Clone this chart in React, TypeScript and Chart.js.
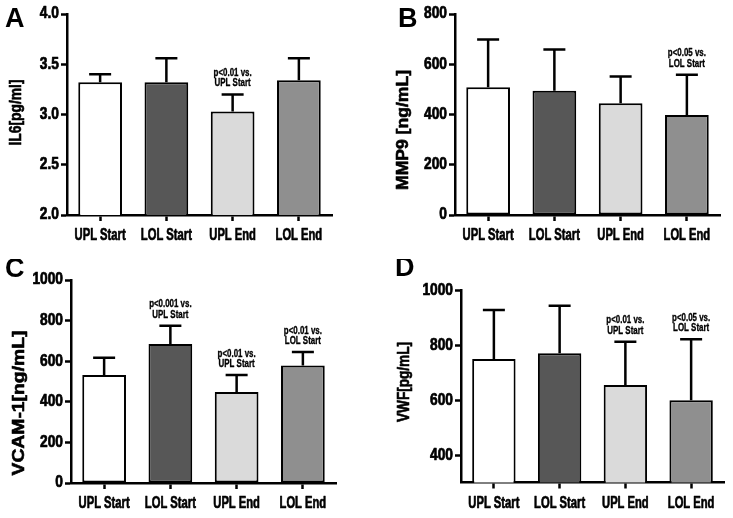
import React, { useEffect, useRef } from 'react';
import { Chart, registerables } from 'chart.js';

Chart.register(...registerables);

// ---------- data ----------
const categories = ['UPL Start', 'LOL Start', 'UPL End', 'LOL End'];
const barColors = ['#ffffff', '#575757', '#dadada', '#8f8f8f'];

const il6Mean = [3.32, 3.32, 3.03, 3.34];
const il6Sd = [0.08, 0.24, 0.17, 0.22];
const il6Notes = ['', '', 'p<0.01 vs.|UPL Start', ''];
const il6Ticks = [2.0, 2.5, 3.0, 3.5, 4.0];

const mmp9Mean = [508, 495, 445, 398];
const mmp9Sd = [191, 164, 106, 160];
const mmp9Notes = ['', '', '', 'p<0.05 vs.|LOL Start'];
const mmp9Ticks = [0, 200, 400, 600, 800];

const vcamMean = [532, 685, 448, 579];
const vcamSd = [85, 90, 84, 66];
const vcamNotes = ['', 'p<0.001 vs.|UPL Start', 'p<0.01 vs.|UPL Start', 'p<0.01 vs.|LOL Start'];
const vcamTicks = [0, 200, 400, 600, 800, 1000];

const vwfMean = [751, 772, 656, 600];
const vwfSd = [179, 173, 158, 223];
const vwfNotes = ['', '', 'p<0.01 vs.|UPL Start', 'p<0.05 vs.|LOL Start'];
const vwfTicks = [400, 600, 800, 1000];

// ---------- style ----------
const FONT = "'Liberation Sans', Arial, sans-serif";
const XH = 32;
const X_TICK_CONDENSE = 0.7;
const Y_TICK_CONDENSE = 0.86;
const NOTE_CONDENSE = 0.72;

type Panel = {
  letter: string;
  title: string;
  mean: number[];
  sd: number[];
  notes: string[];
  ticks: number[];
  min: number;
  max: number;
  decimals: number;
  box: { x: number; y: number; w: number; h: number };
  area: { left: number; right: number; top: number; bottom: number };
  letterPos: [number, number];
  titlePos: [number, number];
  titleLen: number;
};

const panels: Panel[] = [
  {
    letter: 'A', title: 'IL6[pg/ml]', mean: il6Mean, sd: il6Sd, notes: il6Notes, ticks: il6Ticks,
    min: 2, max: 4, decimals: 1,
    box: { x: 0, y: 0, w: 366, h: 259 },
    area: { left: 67, right: 332, top: 14, bottom: 215 },
    letterPos: [5, 27], titlePos: [17, 112.5], titleLen: 66,
  },
  {
    letter: 'B', title: 'MMP9 [ng/mL]', mean: mmp9Mean, sd: mmp9Sd, notes: mmp9Notes, ticks: mmp9Ticks,
    min: 0, max: 800, decimals: 0,
    box: { x: 366, y: 0, w: 367, h: 259 },
    area: { left: 455, right: 720, top: 14, bottom: 215 },
    letterPos: [398, 27], titlePos: [404, 130], titleLen: 120,
  },
  {
    letter: 'C', title: 'VCAM-1[ng/mL]', mean: vcamMean, sd: vcamSd, notes: vcamNotes, ticks: vcamTicks,
    min: 0, max: 1000, decimals: 0,
    box: { x: 0, y: 259, w: 366, h: 259 },
    area: { left: 71, right: 336, top: 280, bottom: 483 },
    letterPos: [5, 277], titlePos: [20, 403], titleLen: 145,
  },
  {
    letter: 'D', title: 'VWF[pg/mL]', mean: vwfMean, sd: vwfSd, notes: vwfNotes, ticks: vwfTicks,
    min: 300, max: 1000, decimals: 0,
    box: { x: 366, y: 259, w: 367, h: 259 },
    area: { left: 461, right: 724, top: 290.7, bottom: 482.5 },
    letterPos: [395, 276], titlePos: [405, 382], titleLen: 80,
  },
];

// Draws text condensed along its own direction and slightly emboldened
// (the reference uses a heavy condensed face).
const condensePlugin = {
  id: 'condense',
  beforeInit(chart: any) {
    const ctx = chart.ctx as any;
    if (ctx.__condensed) return;
    const origFill = ctx.fillText.bind(ctx);
    const origStroke = ctx.strokeText.bind(ctx);
    ctx.__sx = 'auto';
    ctx.__embolden = 0.7;
    ctx.__condensed = true;
    ctx.fillText = (text: string, x: number, y: number) => {
      let sx = ctx.__sx;
      if (sx === 'auto') sx = ctx.textAlign === 'right' ? Y_TICK_CONDENSE : X_TICK_CONDENSE;
      ctx.save();
      ctx.translate(x, y);
      ctx.scale(sx, 1);
      origFill(text, 0, 0);
      if (ctx.__embolden > 0) {
        ctx.strokeStyle = ctx.fillStyle;
        ctx.lineWidth = ctx.__embolden;
        ctx.lineJoin = 'round';
        origStroke(text, 0, 0);
      }
      ctx.restore();
    };
  },
  beforeDraw(chart: any) {
    (chart.ctx as any).__sx = 'auto';
    (chart.ctx as any).__embolden = 0.7;
  },
};

const decorPlugin = {
  id: 'decor',
  afterDatasetsDraw(chart: any, _args: any, opts: any) {
    const ctx = chart.ctx as any;
    const ds = chart.data.datasets[0];
    const meta = chart.getDatasetMeta(0);
    const y = chart.scales.y;
    const prevSx = ctx.__sx;
    const prevEm = ctx.__embolden;
    ctx.save();
    ctx.strokeStyle = '#000';
    ctx.fillStyle = '#000';
    meta.data.forEach((bar: any, i: number) => {
      const topVal = ds.data[i] + ds.errorBars[i];
      const top = y.getPixelForValue(topVal);
      ctx.lineWidth = 2.5;
      ctx.strokeStyle = '#000';
      ctx.beginPath();
      ctx.moveTo(bar.x, bar.y);
      ctx.lineTo(bar.x, top);
      ctx.moveTo(bar.x - 11, top);
      ctx.lineTo(bar.x + 11, top);
      ctx.stroke();
      const note: string = ds.notes[i];
      if (note) {
        const lines = note.split('|');
        ctx.font = `bold 11px ${FONT}`;
        ctx.textAlign = 'center';
        ctx.textBaseline = 'alphabetic';
        ctx.__sx = NOTE_CONDENSE;
        ctx.__embolden = 0.35;
        lines.forEach((ln: string, k: number) => {
          const by = top - 8 - (lines.length - 1 - k) * 10.5;
          ctx.fillText(ln, bar.x, by);
        });
      }
    });
    // panel letter
    ctx.__sx = 1;
    ctx.__embolden = 0;
    ctx.font = `bold 27px ${FONT}`;
    ctx.textAlign = 'left';
    ctx.textBaseline = 'alphabetic';
    ctx.fillText(opts.letter, opts.letterX, opts.letterY);
    // y title, condensed to the reference length
    ctx.save();
    ctx.translate(opts.titleX, opts.titleY);
    ctx.rotate(-Math.PI / 2);
    ctx.font = `bold 16px ${FONT}`;
    const w = ctx.measureText(opts.title).width;
    ctx.__sx = opts.titleLen / w;
    ctx.__embolden = 0.6;
    ctx.textAlign = 'center';
    ctx.textBaseline = 'middle';
    ctx.fillText(opts.title, 0, 0);
    ctx.restore();
    ctx.restore();
    ctx.__sx = prevSx;
    ctx.__embolden = prevEm;
  },
};

function PanelChart({ p }: { p: Panel }) {
  const ref = useRef<HTMLCanvasElement | null>(null);
  useEffect(() => {
    if (!ref.current) return;
    const { box, area } = p;
    const tickFont = { family: FONT, size: 16, weight: 'bold' as const };
    const chart = new Chart(ref.current, {
      type: 'bar',
      data: {
        labels: categories,
        datasets: [
          {
            data: p.mean,
            errorBars: p.sd,
            notes: p.notes,
            backgroundColor: barColors,
            borderColor: '#000',
            borderWidth: 2,
            borderSkipped: false,
            barPercentage: 0.66,
            categoryPercentage: 1,
          } as any,
        ],
      },
      options: {
        animation: false,
        responsive: false,
        maintainAspectRatio: false,
        events: [],
        layout: {
          padding: {
            left: 0,
            top: area.top - box.y,
            right: box.x + box.w - area.right,
            bottom: Math.max(0, box.y + box.h - area.bottom - XH),
          },
        },
        plugins: {
          legend: { display: false },
          tooltip: { enabled: false },
          decor: {
            letter: p.letter,
            letterX: p.letterPos[0] - box.x,
            letterY: p.letterPos[1] - box.y,
            title: p.title,
            titleX: p.titlePos[0] - box.x,
            titleY: p.titlePos[1] - box.y,
            titleLen: p.titleLen,
          },
        } as any,
        scales: {
          x: {
            type: 'category',
            offset: true,
            grid: {
              display: true,
              drawOnChartArea: false,
              drawTicks: true,
              tickLength: 6,
              tickWidth: 2.5,
              tickColor: '#000',
              offset: false,
            },
            border: { display: true, color: '#000', width: 2.5 },
            ticks: {
              color: '#000',
              font: tickFont,
              padding: 5,
              maxRotation: 0,
              autoSkip: false,
            },
            afterFit: (s: any) => {
              s.height = Math.min(XH, box.y + box.h - area.bottom);
            },
          },
          y: {
            type: 'linear',
            min: p.min,
            max: p.max,
            grid: {
              display: true,
              drawOnChartArea: false,
              drawTicks: true,
              tickLength: 6,
              tickWidth: 2.5,
              tickColor: '#000',
            },
            border: { display: true, color: '#000', width: 2.5 },
            ticks: {
              color: '#000',
              font: tickFont,
              padding: 2,
              callback: (v: any) => Number(v).toFixed(p.decimals),
            },
            afterBuildTicks: (s: any) => {
              s.ticks = p.ticks.map((v) => ({ value: v }));
            },
            afterFit: (s: any) => {
              s.width = area.left - box.x;
            },
          },
        } as any,
      },
      plugins: [condensePlugin as any, decorPlugin as any],
    });
    return () => chart.destroy();
  }, [p]);
  return (
    <canvas
      ref={ref}
      width={p.box.w}
      height={p.box.h}
      style={{
        position: 'absolute',
        left: p.box.x,
        top: p.box.y,
        width: p.box.w,
        height: p.box.h,
      }}
    />
  );
}

export default function App() {
  return (
    <div
      style={{
        position: 'absolute',
        left: 0,
        top: 0,
        width: 733,
        height: 518,
        background: '#fff',
        overflow: 'hidden',
      }}
    >
      {panels.map((p) => (
        <PanelChart key={p.letter} p={p} />
      ))}
    </div>
  );
}
